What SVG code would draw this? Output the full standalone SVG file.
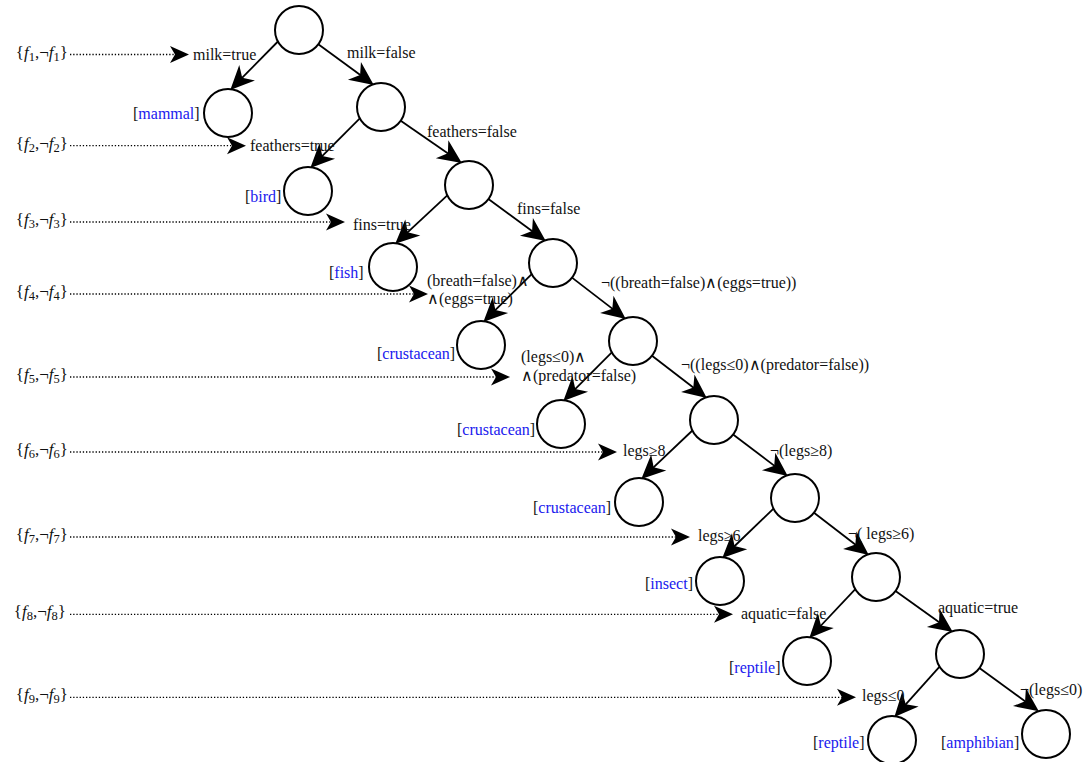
<svg xmlns="http://www.w3.org/2000/svg" width="1092" height="762" viewBox="0 0 1092 762">
<style>
text{font-family:"Liberation Serif","Times New Roman",serif;font-size:16px;fill:#111}
.node{fill:#fff;stroke:#000;stroke-width:2}
.edge{stroke:#000;stroke-width:1.8;fill:none;marker-end:url(#ah)}
.dot{stroke:#000;stroke-width:1.3;fill:none;stroke-dasharray:1.3 1.9;marker-end:url(#ah2)}
.cls{fill:#2020ee}
.lv{font-size:17px}
.it{font-style:italic}
.sub{font-size:12.5px}
</style>
<defs>
<marker id="ah" viewBox="-25 -12 26 24" refX="-15" refY="0" markerWidth="26" markerHeight="24" markerUnits="userSpaceOnUse" orient="auto"><path d="M0,0 L-24,-11 L-17,0 L-24,11 Z" fill="#000"/></marker>
<marker id="ah2" viewBox="-21 -10 22 20" refX="-12" refY="0" markerWidth="22" markerHeight="20" markerUnits="userSpaceOnUse" orient="auto"><path d="M0,0 L-19,-8.5 L-14,0 L-19,8.5 Z" fill="#000"/></marker>
</defs>
<rect width="1092" height="762" fill="#fff"/>

<g id="levels">
<line class="dot" x1="70" y1="54.5" x2="177" y2="54.5"/>
<line class="dot" x1="70" y1="145.7" x2="234" y2="145.7"/>
<line class="dot" x1="70" y1="222" x2="333" y2="222"/>
<line class="dot" x1="70" y1="294" x2="416" y2="294"/>
<line class="dot" x1="70" y1="377" x2="498" y2="377"/>
<line class="dot" x1="70" y1="452" x2="605" y2="452"/>
<line class="dot" x1="70" y1="537" x2="678" y2="537"/>
<line class="dot" x1="70" y1="614.3" x2="721" y2="614.3"/>
<line class="dot" x1="70" y1="697.3" x2="844" y2="697.3"/>
<text class="lv" x="68" y="57.5" text-anchor="end">{<tspan class="it">f</tspan><tspan class="sub" dy="3">1</tspan><tspan dy="-3">,¬</tspan><tspan class="it">f</tspan><tspan class="sub" dy="3">1</tspan><tspan dy="-3">}</tspan></text>
<text class="lv" x="68" y="148.7" text-anchor="end">{<tspan class="it">f</tspan><tspan class="sub" dy="3">2</tspan><tspan dy="-3">,¬</tspan><tspan class="it">f</tspan><tspan class="sub" dy="3">2</tspan><tspan dy="-3">}</tspan></text>
<text class="lv" x="68" y="225" text-anchor="end">{<tspan class="it">f</tspan><tspan class="sub" dy="3">3</tspan><tspan dy="-3">,¬</tspan><tspan class="it">f</tspan><tspan class="sub" dy="3">3</tspan><tspan dy="-3">}</tspan></text>
<text class="lv" x="68" y="297" text-anchor="end">{<tspan class="it">f</tspan><tspan class="sub" dy="3">4</tspan><tspan dy="-3">,¬</tspan><tspan class="it">f</tspan><tspan class="sub" dy="3">4</tspan><tspan dy="-3">}</tspan></text>
<text class="lv" x="68" y="380" text-anchor="end">{<tspan class="it">f</tspan><tspan class="sub" dy="3">5</tspan><tspan dy="-3">,¬</tspan><tspan class="it">f</tspan><tspan class="sub" dy="3">5</tspan><tspan dy="-3">}</tspan></text>
<text class="lv" x="68" y="455" text-anchor="end">{<tspan class="it">f</tspan><tspan class="sub" dy="3">6</tspan><tspan dy="-3">,¬</tspan><tspan class="it">f</tspan><tspan class="sub" dy="3">6</tspan><tspan dy="-3">}</tspan></text>
<text class="lv" x="68" y="540" text-anchor="end">{<tspan class="it">f</tspan><tspan class="sub" dy="3">7</tspan><tspan dy="-3">,¬</tspan><tspan class="it">f</tspan><tspan class="sub" dy="3">7</tspan><tspan dy="-3">}</tspan></text>
<text class="lv" x="66" y="617.3" text-anchor="end">{<tspan class="it">f</tspan><tspan class="sub" dy="3">8</tspan><tspan dy="-3">,¬</tspan><tspan class="it">f</tspan><tspan class="sub" dy="3">8</tspan><tspan dy="-3">}</tspan></text>
<text class="lv" x="68" y="700.3" text-anchor="end">{<tspan class="it">f</tspan><tspan class="sub" dy="3">9</tspan><tspan dy="-3">,¬</tspan><tspan class="it">f</tspan><tspan class="sub" dy="3">9</tspan><tspan dy="-3">}</tspan></text>
</g>

<g id="connectors">
<line class="edge" x1="277.9" y1="41.5" x2="240.8" y2="79.2"/>
<line class="edge" x1="318.3" y1="44.2" x2="361.7" y2="76.1"/>
<line class="edge" x1="359.8" y1="118.3" x2="320.9" y2="157.3"/>
<line class="edge" x1="400.7" y1="120.7" x2="449.5" y2="154.4"/>
<line class="edge" x1="447.3" y1="195.3" x2="406.2" y2="233.6"/>
<line class="edge" x1="488.4" y1="199.1" x2="533.7" y2="232.2"/>
<line class="edge" x1="531.7" y1="274.1" x2="494.0" y2="311.4"/>
<line class="edge" x1="572.0" y1="277.6" x2="613.9" y2="309.9"/>
<line class="edge" x1="611.8" y1="352.3" x2="573.9" y2="390.3"/>
<line class="edge" x1="652.0" y1="355.7" x2="694.9" y2="388.8"/>
<line class="edge" x1="692.4" y1="430.5" x2="652.2" y2="468.6"/>
<line class="edge" x1="733.1" y1="434.5" x2="775.8" y2="466.9"/>
<line class="edge" x1="773.5" y1="508.7" x2="733.1" y2="547.5"/>
<line class="edge" x1="814.0" y1="512.7" x2="856.9" y2="545.8"/>
<line class="edge" x1="855.3" y1="589.1" x2="819.6" y2="627.0"/>
<line class="edge" x1="895.5" y1="591.0" x2="940.6" y2="623.3"/>
<line class="edge" x1="939.6" y1="666.6" x2="904.4" y2="705.8"/>
<line class="edge" x1="979.4" y1="668.1" x2="1026.7" y2="702.5"/>
<text x="193" y="60">milk=true</text>
<text x="347" y="58">milk=false</text>
<text x="250" y="151">feathers=true</text>
<text x="427" y="137">feathers=false</text>
<text x="353" y="230">fins=true</text>
<text x="517" y="214">fins=false</text>
<text x="427" y="286">(breath=false)∧</text>
<text x="427" y="304">∧(eggs=true)</text>
<text x="601" y="288">¬((breath=false)∧(eggs=true))</text>
<text x="521" y="362">(legs≤0)∧</text>
<text x="521" y="381">∧(predator=false)</text>
<text x="681" y="370">¬((legs≤0)∧(predator=false))</text>
<text x="623" y="456">legs≥8</text>
<text x="770" y="456">¬(legs≥8)</text>
<text x="698" y="541">legs≥6</text>
<text x="848" y="539">¬( legs≥6)</text>
<text x="741" y="619">aquatic=false</text>
<text x="938" y="613">aquatic=true</text>
<text x="862" y="701">legs≤0</text>
<text x="1020" y="695">¬(legs≤0)</text>
</g>

<g id="n0"><circle class="node" cx="299" cy="30" r="24"/></g>
<g id="l1"><circle class="node" cx="228" cy="113" r="24"/><text x="133" y="119">[<tspan class="cls">mammal</tspan>]</text></g>
<g id="r1"><circle class="node" cx="381" cy="107" r="24"/></g>
<g id="l2"><circle class="node" cx="308" cy="191" r="24"/><text x="245" y="202">[<tspan class="cls">bird</tspan>]</text></g>
<g id="r2"><circle class="node" cx="469" cy="185" r="24"/></g>
<g id="l3"><circle class="node" cx="393" cy="267" r="24"/><text x="329" y="278">[<tspan class="cls">fish</tspan>]</text></g>
<g id="r3"><circle class="node" cx="553" cy="263" r="24"/></g>
<g id="l4"><circle class="node" cx="481" cy="345" r="24"/><text x="377" y="359">[<tspan class="cls">crustacean</tspan>]</text></g>
<g id="r4"><circle class="node" cx="633" cy="341" r="24"/></g>
<g id="l5"><circle class="node" cx="561" cy="424" r="24"/><text x="457" y="435">[<tspan class="cls">crustacean</tspan>]</text></g>
<g id="r5"><circle class="node" cx="714" cy="420" r="24"/></g>
<g id="l6"><circle class="node" cx="639" cy="502" r="24"/><text x="533" y="513">[<tspan class="cls">crustacean</tspan>]</text></g>
<g id="r6"><circle class="node" cx="795" cy="498" r="24"/></g>
<g id="l7"><circle class="node" cx="720" cy="581" r="24"/><text x="645" y="589">[<tspan class="cls">insect</tspan>]</text></g>
<g id="r7"><circle class="node" cx="876" cy="577" r="24"/></g>
<g id="l8"><circle class="node" cx="807" cy="661" r="24"/><text x="729" y="673">[<tspan class="cls">reptile</tspan>]</text></g>
<g id="r8"><circle class="node" cx="960" cy="654" r="24"/></g>
<g id="l9"><circle class="node" cx="892" cy="740" r="24"/><text x="813" y="748">[<tspan class="cls">reptile</tspan>]</text></g>
<g id="a9"><circle class="node" cx="1046" cy="734" r="24"/><text x="941" y="748">[<tspan class="cls">amphibian</tspan>]</text></g>
</svg>
